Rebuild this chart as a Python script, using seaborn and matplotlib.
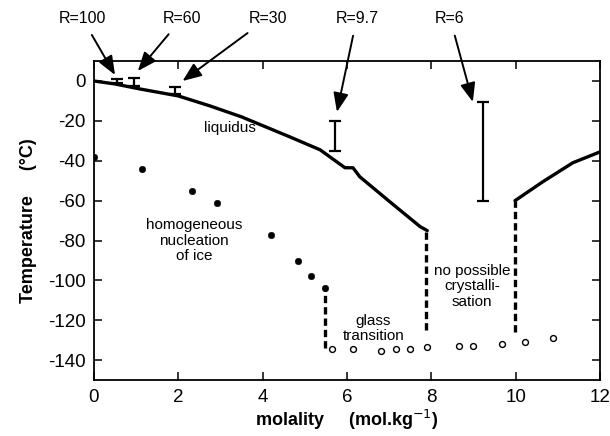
import numpy as np
import pandas as pd
import matplotlib
matplotlib.use("Agg")
import matplotlib.pyplot as plt
import seaborn as sns

# liquidus curve, left and right branches
liq_m = [0, 0.5, 1.09, 2.0, 2.75, 3.5, 4.64, 5.36, 5.95, 6.14, 6.3, 7.01, 7.73, 7.9]
liq_T = [0, -1.5, -4, -7.5, -12.5, -18, -28, -34.5, -43.5, -43.5, -48, -60.5, -73, -75]
liq2_m = [9.98, 10.64, 11.35, 12.0]
liq2_T = [-60, -50.5, -41, -35.5]

# homogeneous nucleation of ice (filled dots)
hom_m = [0, 1.13, 2.32, 2.92, 4.19, 4.83, 5.14, 5.47]
hom_T = [-38, -44, -55, -61, -77, -90, -98, -104]

# glass transition (open circles)
tg_m = [5.65, 6.14, 6.8, 7.15, 7.49, 7.9, 8.65, 8.98, 9.66, 10.21, 10.88]
tg_T = [-134.5, -134.5, -135.5, -134.5, -134.5, -133.5, -133, -133, -132, -131, -129]

# dashed boundaries
dash_m = [5.48, 7.88, 9.98]
dash_top = [-104, -75, -60]
dash_bottom = [-134, -125, -126]

# error bars for the different R values
bar_labels = ["R=100", "R=60", "R=30", "R=9.7", "R=6"]
bar_m = [0.55, 0.95, 1.92, 5.71, 9.22]
bar_top = [1, 1.5, -3, -20, -10.5]
bar_bottom = [-1, -2.5, -6.5, -35, -60]
arrow_tip_m = [0.5, 1.04, 2.1, 5.76, 8.98]
arrow_tip_T = [3, 5, 0, -15.5, -10.5]
label_m = [-0.28, 2.09, 4.12, 6.23, 8.44]
label_T = [31.5, 31.5, 31.5, 31.5, 31.5]

sns.set_style("ticks")
plt.rcParams["font.family"] = ["Liberation Sans", "DejaVu Sans"]
plt.rcParams.update({"text.color": "black", "axes.labelcolor": "black",
                     "xtick.color": "black", "ytick.color": "black",
                     "axes.edgecolor": "black", "axes.unicode_minus": False})

fig = plt.figure(figsize=(6.1, 4.36), dpi=100)
ax = fig.add_axes([0.154, 0.128, 0.83, 0.732])

sns.lineplot(x=liq_m, y=liq_T, sort=False, color="black", linewidth=2.4, ax=ax)
sns.lineplot(x=liq2_m, y=liq2_T, sort=False, color="black", linewidth=2.4, ax=ax)
sns.scatterplot(x=hom_m, y=hom_T, color="black", s=22, edgecolor="black", ax=ax, zorder=3)
sns.scatterplot(x=tg_m, y=tg_T, facecolor="white", edgecolor="black", linewidth=1.0,
                s=18, ax=ax, zorder=3)
ax.vlines(dash_m, dash_bottom, dash_top, colors="black", linewidth=2.4,
          linestyles=(0, (2.2, 1.2)))

centre = [(t + b) / 2 for t, b in zip(bar_top, bar_bottom)]
err = [[c - b for c, b in zip(centre, bar_bottom)], [t - c for t, c in zip(bar_top, centre)]]
ax.errorbar(bar_m, centre, yerr=err, fmt="none", ecolor="black", elinewidth=1.6,
            capsize=4.5, capthick=1.6)

for lab, tm, tT, lm, lT in zip(bar_labels, arrow_tip_m, arrow_tip_T, label_m, label_T):
    ax.annotate(lab, xy=(tm, tT), xytext=(lm, lT), ha="center", va="center",
                fontsize=11.5, annotation_clip=False,
                arrowprops=dict(arrowstyle="-|>,head_length=1.0,head_width=0.4",
                                color="black", lw=1.4, shrinkA=5, shrinkB=0))

txt = dict(ha="center", va="center", fontsize=11, linespacing=1.1)
ax.text(3.23, -23.5, "liquidus", **txt)
ax.text(2.38, -80, "homogeneous\nnucleation\nof ice", **txt)
ax.text(6.62, -124, "glass\ntransition", **txt)
ax.text(8.96, -103, "no possible\ncrystalli-\nsation", **txt)

ax.set_xlim(0, 12)
ax.set_ylim(-150, 10)
ax.set_xticks(range(0, 13, 2))
ax.set_yticks(range(-140, 1, 20))
ax.tick_params(direction="in", top=True, right=True, length=6, width=1.1,
               labelsize=13.5, pad=6)
for sp in ax.spines.values():
    sp.set_linewidth(1.3)
    sp.set_visible(True)

ax.set_xlabel("molality     (mol.kg$^{-1}$)", fontsize=13, fontweight="bold", labelpad=2)
ax.set_ylabel("Temperature     (°C)", fontsize=13, fontweight="bold", labelpad=8)

fig.savefig("out.png", dpi=100)
